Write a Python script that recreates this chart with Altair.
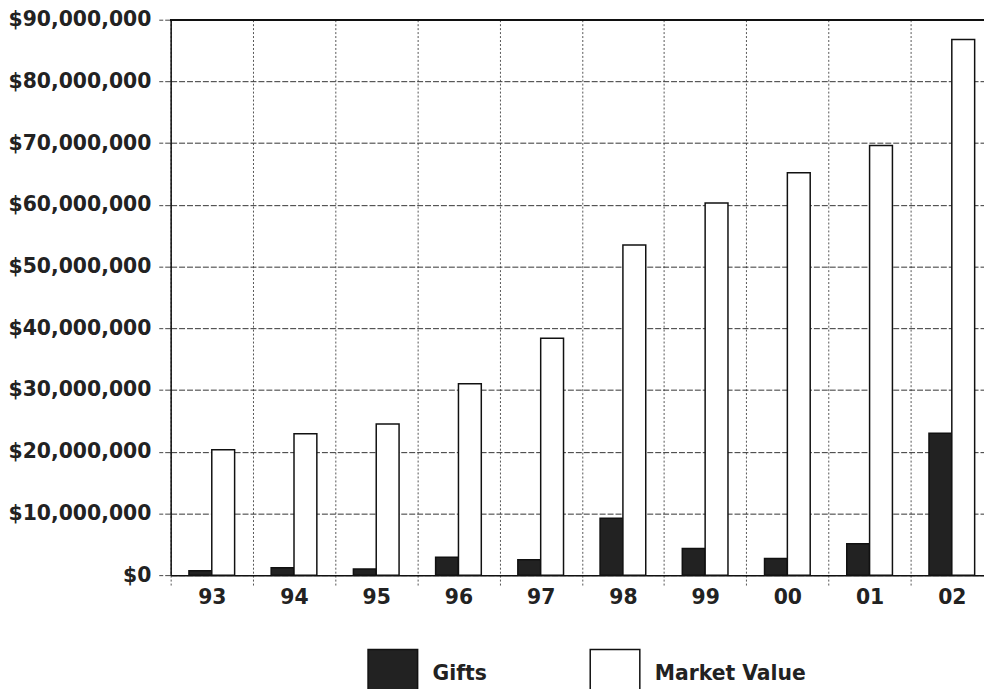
import altair as alt
import pandas as pd

years = ["93", "94", "95", "96", "97", "98", "99", "00", "01", "02"]
gifts_m = [0.7, 1.2, 1.0, 2.9, 2.5, 9.2, 4.3, 2.7, 5.1, 23.0]          # $ millions
market_value_m = [20.3, 22.9, 24.5, 31.0, 38.4, 53.5, 60.3, 65.2, 69.6, 86.8]  # $ millions
series = ["Gifts", "Market Value"]
series_colors = ["#222222", "#ffffff"]
y_ticks = [i * 5000000 for i in range(19)]

rows = []
for i, yr in enumerate(years):
    rows.append({"year": yr, "series": "Gifts", "value": gifts_m[i] * 1e6})
    rows.append({"year": yr, "series": "Market Value", "value": market_value_m[i] * 1e6})
df = pd.DataFrame(rows)

FONT = "DejaVu Sans"
FS = 20.5

bars = alt.Chart(df).mark_bar(stroke="#111111", strokeWidth=1.5).encode(
    x=alt.X(
        "year:N", sort=years, title=None,
        scale=alt.Scale(paddingInner=0, paddingOuter=0),
        axis=alt.Axis(
            tickBand="extent", grid=True, gridDash=[2, 2], gridColor="#555555", gridWidth=1,
            labelAngle=0, labelFont=FONT, labelFontSize=FS, labelFontWeight="bold",
            labelColor="#222222", tickSize=10, tickColor="#555555", tickDash=[2, 2],
            labelPadding=3, domainColor="#111111", domainWidth=1.5,
        ),
    ),
    xOffset=alt.XOffset("series:N", sort=series,
                        scale=alt.Scale(paddingOuter=0.8, paddingInner=0)),
    y=alt.Y(
        "value:Q", title=None,
        scale=alt.Scale(domain=[0, 90000000], nice=False),
        axis=alt.Axis(
            values=y_ticks,
            labelExpr="datum.value % 10000000 === 0 ? format(datum.value, '$,.0f') : ''",
            grid=True, gridDash=[6, 2], gridColor="#333333", gridWidth=1,
            labelFont=FONT, labelFontSize=FS, labelFontWeight="bold", labelColor="#222222",
            tickSize=12, tickColor="#444444", tickDash=[6, 2], labelPadding=8,
            domainColor="#111111", domainWidth=1.5,
        ),
    ),
    color=alt.Color(
        "series:N", sort=series,
        scale=alt.Scale(domain=series, range=series_colors),
        legend=alt.Legend(
            title=None, orient="none", legendX=198, legendY=634, direction="horizontal",
            symbolType="square", symbolSize=2500, symbolStrokeColor="#111111",
            symbolStrokeWidth=1.5, symbolOpacity=1,
            labelFont=FONT, labelFontSize=FS, labelFontWeight="bold", labelColor="#222222",
            labelOffset=14, columnPadding=101,
        ),
    ),
)

top_rule = alt.Chart(df).mark_rule(color="#111111", strokeWidth=1.5).encode(
    y=alt.datum(90000000)
)

chart = alt.layer(bars, top_rule).properties(
    width=829, height=560,
    autosize=alt.AutoSizeParams(type="none"),
    padding={"left": 164, "top": 9, "right": -9, "bottom": 112},
).configure_view(strokeWidth=0).configure(background="white")

chart.save("out.html", embed_options={"renderer": "svg", "actions": False})
